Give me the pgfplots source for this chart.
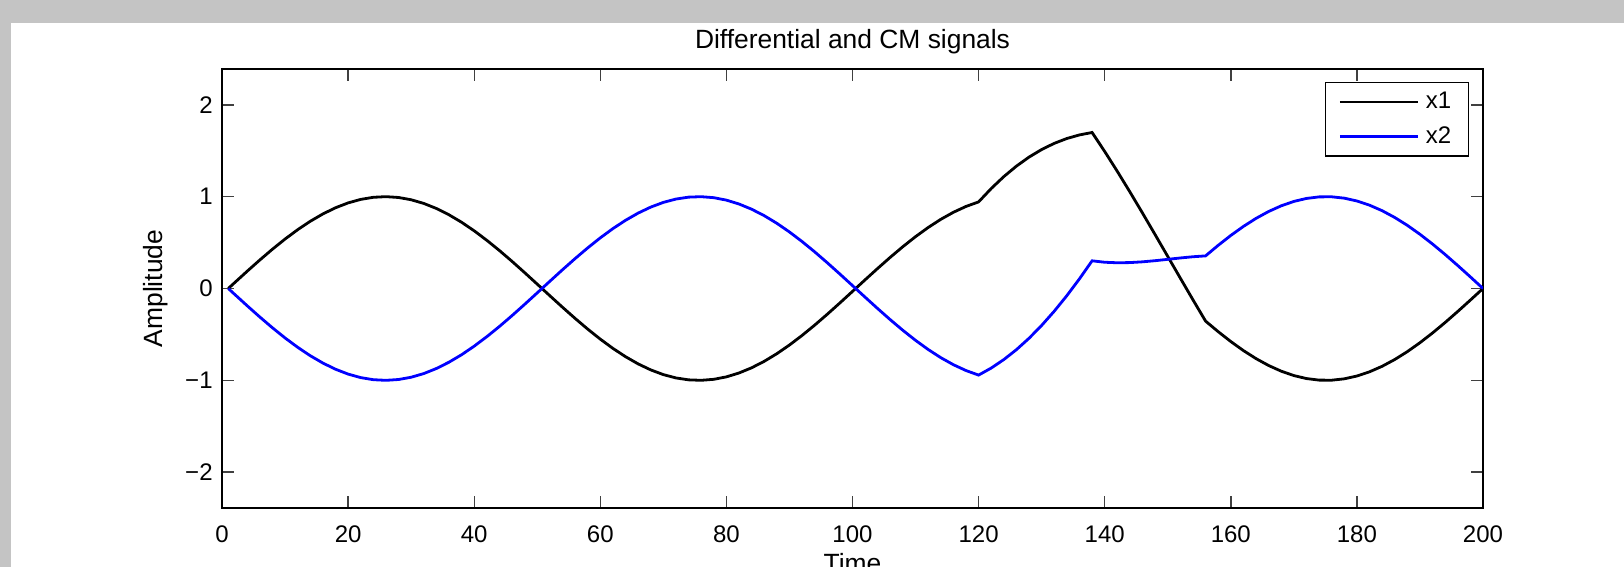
\documentclass[border=0pt]{standalone}
\usepackage{fontspec}
\setmainfont{Liberation Sans}
\usepackage{pgfplots}
\usepackage{pgfplotstable}
\pgfplotsset{compat=1.18}
\definecolor{bggray}{RGB}{196,196,196}
\pgfplotstableread{
t x1 x2
1 0 0
2 0.0631 -0.0631
4 0.1883 -0.1883
6 0.3105 -0.3105
8 0.4278 -0.4278
10 0.5383 -0.5383
12 0.6401 -0.6401
14 0.7318 -0.7318
16 0.8118 -0.8118
18 0.8789 -0.8789
20 0.9320 -0.9320
22 0.9702 -0.9702
24 0.9930 -0.9930
26 1.0000 -1.0000
28 0.9910 -0.9910
30 0.9663 -0.9663
32 0.9262 -0.9262
34 0.8712 -0.8712
36 0.8025 -0.8025
38 0.7212 -0.7212
40 0.6279 -0.6279
42 0.5248 -0.5248
44 0.4135 -0.4135
46 0.2955 -0.2955
48 0.1728 -0.1728
50 0.0473 -0.0473
52 -0.0789 0.0789
54 -0.2038 0.2038
56 -0.3254 0.3254
58 -0.4420 0.4420
60 -0.5514 0.5514
62 -0.6522 0.6522
64 -0.7424 0.7424
66 -0.8210 0.8210
68 -0.8863 0.8863
70 -0.9376 0.9376
72 -0.9739 0.9739
74 -0.9947 0.9947
76 -0.9997 0.9997
78 -0.9888 0.9888
80 -0.9621 0.9621
82 -0.9200 0.9200
84 -0.8634 0.8634
86 -0.7929 0.7929
88 -0.7099 0.7099
90 -0.6155 0.6155
92 -0.5113 0.5113
94 -0.3990 0.3990
96 -0.2803 0.2803
98 -0.1572 0.1572
100 -0.0316 0.0316
102 0.0946 -0.0946
104 0.2192 -0.2192
106 0.3403 -0.3403
108 0.4561 -0.4561
110 0.5646 -0.5646
112 0.6640 -0.6640
114 0.7530 -0.7530
116 0.8297 -0.8297
118 0.8934 -0.8934
120 0.9429 -0.9429
122 1.0885 -0.8663
124 1.2184 -0.7740
126 1.3325 -0.6659
128 1.4307 -0.5419
130 1.5132 -0.4020
132 1.5805 -0.2471
134 1.6332 -0.0776
136 1.6722 0.1056
138 1.6986 0.3014
140 1.4920 0.2858
142 1.2755 0.2801
144 1.0512 0.2822
146 0.8208 0.2904
148 0.5860 0.3028
150 0.3491 0.3175
152 0.1119 0.3325
154 -0.1235 0.3457
156 -0.3552 0.3552
158 -0.4701 0.4701
160 -0.5776 0.5776
162 -0.6758 0.6758
164 -0.7634 0.7634
166 -0.8386 0.8386
168 -0.9004 0.9004
170 -0.9480 0.9480
172 -0.9806 0.9806
174 -0.9975 0.9975
176 -0.9985 0.9985
178 -0.9836 0.9836
180 -0.9530 0.9530
182 -0.9072 0.9072
184 -0.8471 0.8471
186 -0.7734 0.7734
188 -0.6874 0.6874
190 -0.5904 0.5904
192 -0.4839 0.4839
194 -0.3699 0.3699
196 -0.2499 0.2499
198 -0.1260 0.1260
200 0 0
}\datatable
\begin{document}
\begin{tikzpicture}
\fill[bggray] (-111pt,-29.5pt) rectangle (701pt,254pt);
\fill[white] (-105.5pt,-29.5pt) rectangle (701pt,242.5pt);
\begin{axis}[
  at={(0pt,0pt)}, anchor=south west,
  scale only axis, width=630.5pt, height=219.5pt,
  xmin=0, xmax=200, ymin=-2.39, ymax=2.39,
  xtick={0,20,...,200}, ytick={-2,-1,0,1,2},
  yticklabels={−2,−1,0,1,2},
  /pgf/number format/assume math mode=true,
  tick align=inside, major tick length=6pt,
  axis line style={line width=1pt, black},
  tick style={line width=0.7pt, black!75},
  ticklabel style={font=\fontsize{12}{14}\selectfont},
  xticklabel style={anchor=north, inner sep=0pt, yshift=-8.5pt},
  yticklabel style={anchor=east, inner sep=0pt, xshift=-4.5pt},
  every axis title shift=0pt,
  title={Differential and CM signals},
  title style={font=\fontsize{13.2}{15}\selectfont, at={(axis description cs:0.5,1.0478)}, anchor=base, inner sep=0pt},
  xlabel={Time},
  xlabel style={font=\fontsize{13.2}{15}\selectfont, at={(axis description cs:0.5,-0.1025)}, anchor=north, inner sep=0pt},
  ylabel={Amplitude},
  ylabel style={font=\fontsize{13.2}{15}\selectfont, at={(axis description cs:-0.0468,0.5)}, anchor=base, inner sep=0pt},
  legend style={at={(axis description cs:0.9889,0.9704)}, anchor=north east,
    draw=black, line width=0.7pt, font=\fontsize{12}{14}\selectfont,
    inner xsep=6.5pt, inner ysep=2.75pt, row sep=3.5pt,
    /tikz/every odd column/.append style={column sep=1.3pt}},
  legend image code/.code={\draw[#1, line width=1.4pt] (0pt,0pt) -- (39pt,0pt);},
  legend cell align=left,
]
\addplot[black, line width=1.4pt] table[x=t, y=x1] {\datatable};
\addlegendentry{x1}
\addplot[blue, line width=1.4pt] table[x=t, y=x2] {\datatable};
\addlegendentry{x2}
\end{axis}
\pgfresetboundingbox
\useasboundingbox (-111pt,-29.5pt) rectangle (701pt,254pt);
\end{tikzpicture}
\end{document}
